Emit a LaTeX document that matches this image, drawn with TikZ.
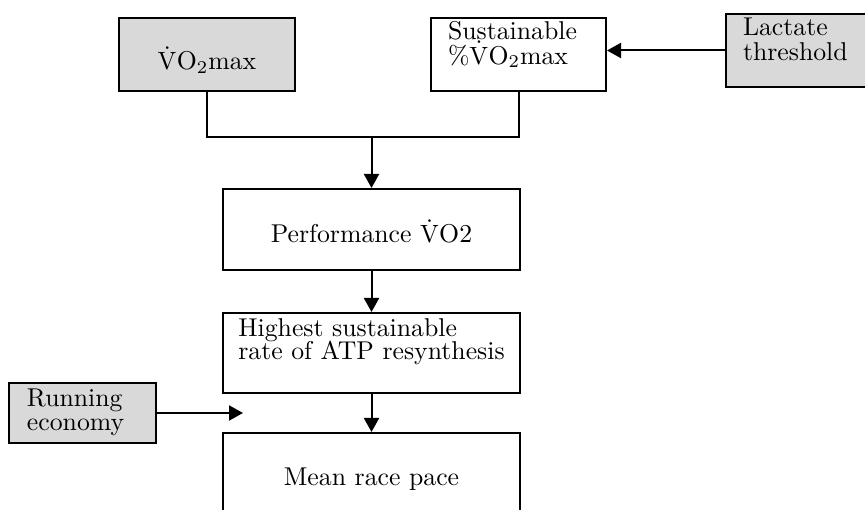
\documentclass[tikz,border=0pt]{standalone}
\usepackage{tikz}
\usetikzlibrary{positioning, arrows.meta}
\definecolor{BoxGray}{RGB}{217,217,217}
\newcommand{\Vdot}{\ensuremath{\dot{\mathrm{V}}}}
\tikzset{
  factor/.style={rectangle, draw=black, line width=0.8pt, font=\fontsize{10.3}{9.8}\selectfont},
  input/.style={factor, fill=BoxGray},
  flow/.style={line width=0.8pt, -{Triangle[length=5.6pt, width=6pt]}},
  link/.style={line width=0.8pt}
}

\begin{document}
\begin{tikzpicture}[x=0.4pt, y=-0.4pt]
  % picture frame
  \useasboundingbox (0,0) rectangle (865,510);
  \clip (0,0) rectangle (865,510);

  % Top row
  \node[input, minimum width=70.4pt, minimum height=29.2pt, text height=13.4pt, text depth=1pt] (vo2max) at (207,54.5) {\Vdot O\textsubscript{2}max};
  \node[factor, align=left, text width=56.4pt, inner xsep=6.8pt, inner ysep=0pt, minimum height=29.2pt] (sustain) at (518.5,54.5) {Sustainable\\ \%\Vdot O\textsubscript{2}max\rule[-9.3pt]{0pt}{9.3pt}};
  \node[input, align=left, text width=48pt, inner xsep=6.8pt, inner ysep=0pt, minimum height=29.2pt] (lactate) at (803,50.5) {Lactate\\[0.2pt] threshold\rule[-8.9pt]{0pt}{8.9pt}};

  % Middle column
  \node[factor, minimum width=118.8pt, minimum height=32.4pt, text height=11.5pt, text depth=0.7pt] (perf) at (371.5,229.5) {Performance \Vdot O2};
  \node[factor, align=left, inner xsep=2pt, inner ysep=0pt, minimum width=118.8pt, minimum height=32pt] (highest) at (371.5,353) {Highest sustainable\\[-0.8pt] rate of ATP resynthesis\rule[-11.1pt]{0pt}{11.1pt}};
  \node[factor, minimum width=118.8pt, minimum height=35.2pt, text height=9.2pt, text depth=2pt] (race) at (371.5,477) {Mean race pace};

  % Side input
  \node[input, align=left, text width=44.4pt, inner xsep=7.2pt, inner ysep=0pt, minimum height=24pt] (running) at (82.5,413) {Running\\[-0.4pt] economy\rule[-2.7pt]{0pt}{2.7pt}};

  \coordinate (merge) at (371.5,137);
  \coordinate (economy end) at (243,413);

  % Connectors
  \draw[link] (vo2max.south) |- (merge) -| (sustain.south);
  \draw[flow] (merge) -- (perf.north);
  \draw[flow] (lactate.west) -- (lactate.west -| sustain.east);
  \draw[flow] (perf.south) -- (highest.north);
  \draw[flow] (highest.south) -- (race.north);
  \draw[flow] (running.east) -- (economy end);
\end{tikzpicture}
\end{document}
